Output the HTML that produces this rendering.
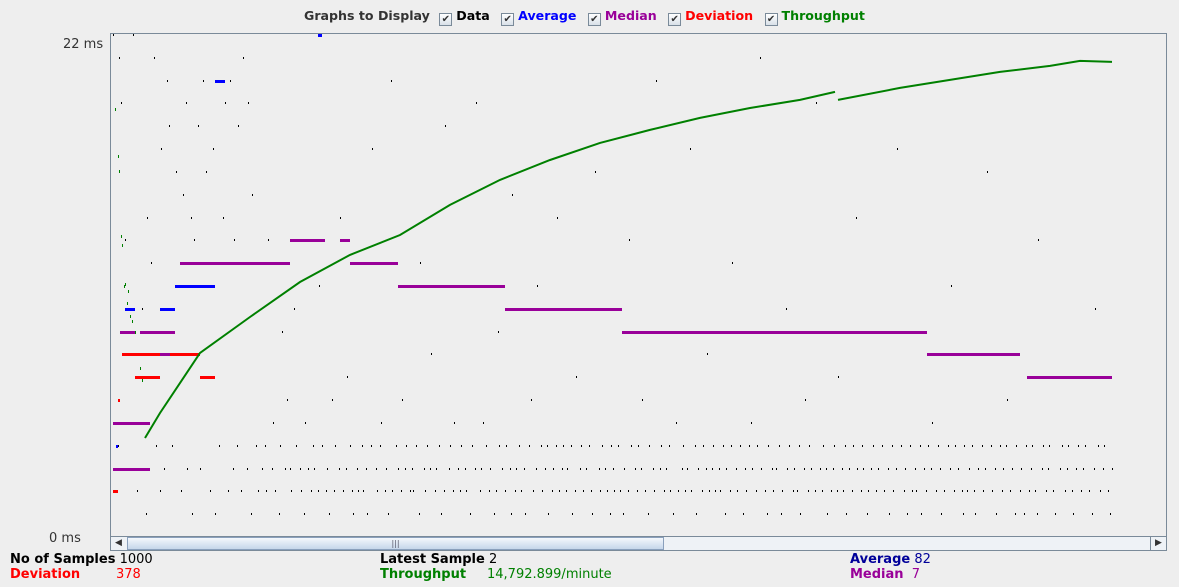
<!DOCTYPE html>
<html><head><meta charset="utf-8">
<style>
body{margin:0;width:1179px;height:587px;background:#eeeeee;font-family:"DejaVu Sans","Liberation Sans",sans-serif;overflow:hidden;position:relative}
.t{position:absolute;font-size:13px;white-space:nowrap}
.cb{display:inline-block;width:11px;height:11px;border:1px solid #7a8a99;background:linear-gradient(#fff,#d8e0e8);vertical-align:-2px;margin-right:4px;font-size:10px;line-height:11px;text-align:center;color:#333;font-weight:normal}
</style></head><body>
<div class="t" style="left:304px;top:8px;color:#333;font-weight:bold;font-size:12.6px">Graphs to Display
 <span style="margin-left:5px"><span class="cb">✔</span><span style="color:#000">Data</span></span>
 <span style="margin-left:7px"><span class="cb">✔</span><span style="color:#0000ff">Average</span></span>
 <span style="margin-left:7px"><span class="cb">✔</span><span style="color:#990099">Median</span></span>
 <span style="margin-left:7px"><span class="cb">✔</span><span style="color:#ff0000">Deviation</span></span>
 <span style="margin-left:7px"><span class="cb">✔</span><span style="color:#008000">Throughput</span></span>
</div>
<div class="t" style="left:63px;top:37px;color:#333">22 ms</div>
<div class="t" style="left:49px;top:531px;color:#333">0 ms</div>
<svg id="chart" style="position:absolute;left:0;top:0" width="1179" height="587" shape-rendering="crispEdges">
<rect x="110.5" y="33.5" width="1056" height="503" fill="#eeeeee" stroke="#7a8a99"/>
<g id="dots"></g><g id="lines"></g>
</svg>
<div style="position:absolute;left:110px;top:536px;width:1057px;height:15px;border:1px solid #7a8a99;box-sizing:border-box;background:#eef2f6">
 <div style="position:absolute;left:0;top:0;width:15px;height:13px;font-size:9px;line-height:13px;text-align:center;color:#333">◀</div>
 <div style="position:absolute;left:16px;top:0;width:537px;height:13px;border:1px solid #8aa0bc;box-sizing:border-box;background:linear-gradient(#f4f8fc,#c6d6ea);font-size:8px;text-align:center;line-height:11px;color:#556">|||</div>
 <div style="position:absolute;right:0;top:0;width:15px;height:13px;border-left:1px solid #7a8a99;font-size:9px;line-height:13px;text-align:center;color:#333">▶</div>
</div>
<div class="t" style="left:10px;top:552px"><b>No of Samples</b> 1000</div>
<div class="t" style="left:10px;top:567px;color:#ff0000"><b>Deviation</b><span style="position:absolute;left:106px">378</span></div>
<div class="t" style="left:380px;top:552px"><b>Latest Sample</b> 2</div>
<div class="t" style="left:380px;top:567px;color:#008000"><b>Throughput</b><span style="position:absolute;left:107px">14,792.899/minute</span></div>
<div class="t" style="left:850px;top:552px;color:#000099"><b>Average</b> 82</div>
<div class="t" style="left:850px;top:567px;color:#990099"><b>Median</b>&nbsp; 7</div>
<script>
// samples: one char per sample, 0-9 a-m = 0..22 ms, '.' = off chart
const sampleCodes =
"m..2.4l.j..3d..9...5m...2.8..a...1e...c..l.4...2h." +
".3..k.i..4...gb...2.f..j3...e1.d...i.3..kb.g...2.." +
"h.1..c4...e.j..2.k..3d..4i..2.l...3j..1f...4c2...3" +
"..42.d...35.2...14.9..3.6..32..a.4...32..15..3..2." +
"43...2b..4...23.1..6.24...3e..2..37..4.21...32...4" +
"2..31...4h...32..45...23.1..k2...4.3..26..34...2.3" +
"2..4..1c...32.4..38...23..4.1..2i...34..25...3.24." +
"..32...1.4..3j...23.5..4..23...1.2.94..3..24...31f" +
"..23..4.2..31...4.6.2..3b...42..3.41...23..4e.2..3" +
"4..23...41..27...34.2..3..4.21..g...32.4..3.2..14." +
"32...4.2..13...2d.4...3.24..36..2..14...32.k...34." +
".2.3..42..1..5.2...34.2.3..h2...41.3...24..38.2..3" +
"4.2...32..4.13...24c...32..4..1.32..4.53...24..l3." +
"..2.14...32..3..4.12...a3.4...23..2.41...36..24.3." +
"..2j...3.24..31...2.34..27...32.41..3..24..e3...24" +
"3...12..3.4..2.39..4.2...31..42..3h...4..23.1..4.2" +
"..32...41..3.2.4..35...2.4.31..2...4.3b..24..3...2" +
"14..2.3..4.21..3...42.3.g...42..31...4.23..46..2.3" +
"..14...23..1.4..2.34..2.1d...34..2.34...2.1..7.3.4" +
"..2.34...21..3.4..2.3.4...2..1.3a..4.2..34...2.1.3";
// median steps: [startSample, endSample, ms]
const medianSteps = [[0,37,3],[0,37,5],[7,22,9],[27,62,9],[47,57,8],[67,177,12],[177,212,13],[227,237,13],[237,285,12],[285,392,11],[392,509,10],[509,814,9],[814,907,8],[914,999,7]];
// average steps
const averageSteps = [[3,5,4],[7,20,9],[12,22,10],[37,47,8],[47,62,10],[62,102,11],[102,112,20],[205,209,22]];
// deviation steps
const deviationSteps = [[0,5,2],[5,6,6],[9,87,8],[22,47,7],[87,102,7]];
// early scattered throughput samples (per minute)
const tpEarlyIndex = [2,5,6,8,9,11,12,14,15,17,19,22,27,29];
const tpEarlyValue = [13333,11872,11400,9386,9100,7832,7900,7300,7677,6900,6745,6400,5284,4900];
// throughput line (per minute)
const tpIndex = [32,47,87,137,187,237,287,337,387,437,487,537,587,637,687,722,725,787,837,887,937,967,999];
const tpValue = [3077,3854,5719,6838,7925,8765,9386,10319,11096,11717,12246,12650,13023,13333,13582,13831,13582,13955,14204,14452,14639,14794,14763];

const X0=113, YMAX_MS=22, Y0=537, PLOT_H=502, TP_MAX=15600;
const xs = i => X0 + i;
const yMs = v => Y0 - v/YMAX_MS*PLOT_H;
const yTp = v => Y0 - v/TP_MAX*PLOT_H;
const NS="http://www.w3.org/2000/svg";
const dots=document.getElementById('dots'), lines=document.getElementById('lines');
function decode(c){ if(c==='.')return null; return parseInt(c,36); }
for(let i=0;i<sampleCodes.length;i++){
  const v=decode(sampleCodes[i]); if(v===null||v>22) continue;
  const r=document.createElementNS(NS,'rect');
  r.setAttribute('x',xs(i)); r.setAttribute('y',Math.round(yMs(v))-1);
  r.setAttribute('width',1); r.setAttribute('height',2); r.setAttribute('fill','#000');
  
  
  dots.appendChild(r);
}
function steps(arr,color,name){
  arr.forEach(s=>{
    const r=document.createElementNS(NS,'rect');
    r.setAttribute('x',xs(s[0])); r.setAttribute('y',Math.round(yMs(s[2]))-1);
    r.setAttribute('width',Math.max(2,s[1]-s[0])); r.setAttribute('height',3); r.setAttribute('fill',color);
    
    
    lines.appendChild(r);
  });
}
steps(averageSteps,'#0000ff','average-segment');
steps(deviationSteps,'#ff0000','deviation-segment');
steps(medianSteps,'#990099','median-segment');
tpEarlyIndex.forEach((ix,k)=>{
  const r=document.createElementNS(NS,'rect');
  r.setAttribute('x',xs(ix)); r.setAttribute('y',Math.round(yTp(tpEarlyValue[k])));
  r.setAttribute('width',1); r.setAttribute('height',3); r.setAttribute('fill','#008000');
  
  
  lines.appendChild(r);
});
let d='';
tpIndex.forEach((ix,k)=>{ d+=(k===0||k===16?'M':'L')+xs(ix)+' '+yTp(tpValue[k]).toFixed(1)+' '; });
const p=document.createElementNS(NS,'path');
p.setAttribute('d',d);
p.setAttribute('fill','none'); p.setAttribute('stroke','#008000'); p.setAttribute('stroke-width','2');
p.setAttribute('shape-rendering','auto');


lines.appendChild(p);
</script>
</body></html>
